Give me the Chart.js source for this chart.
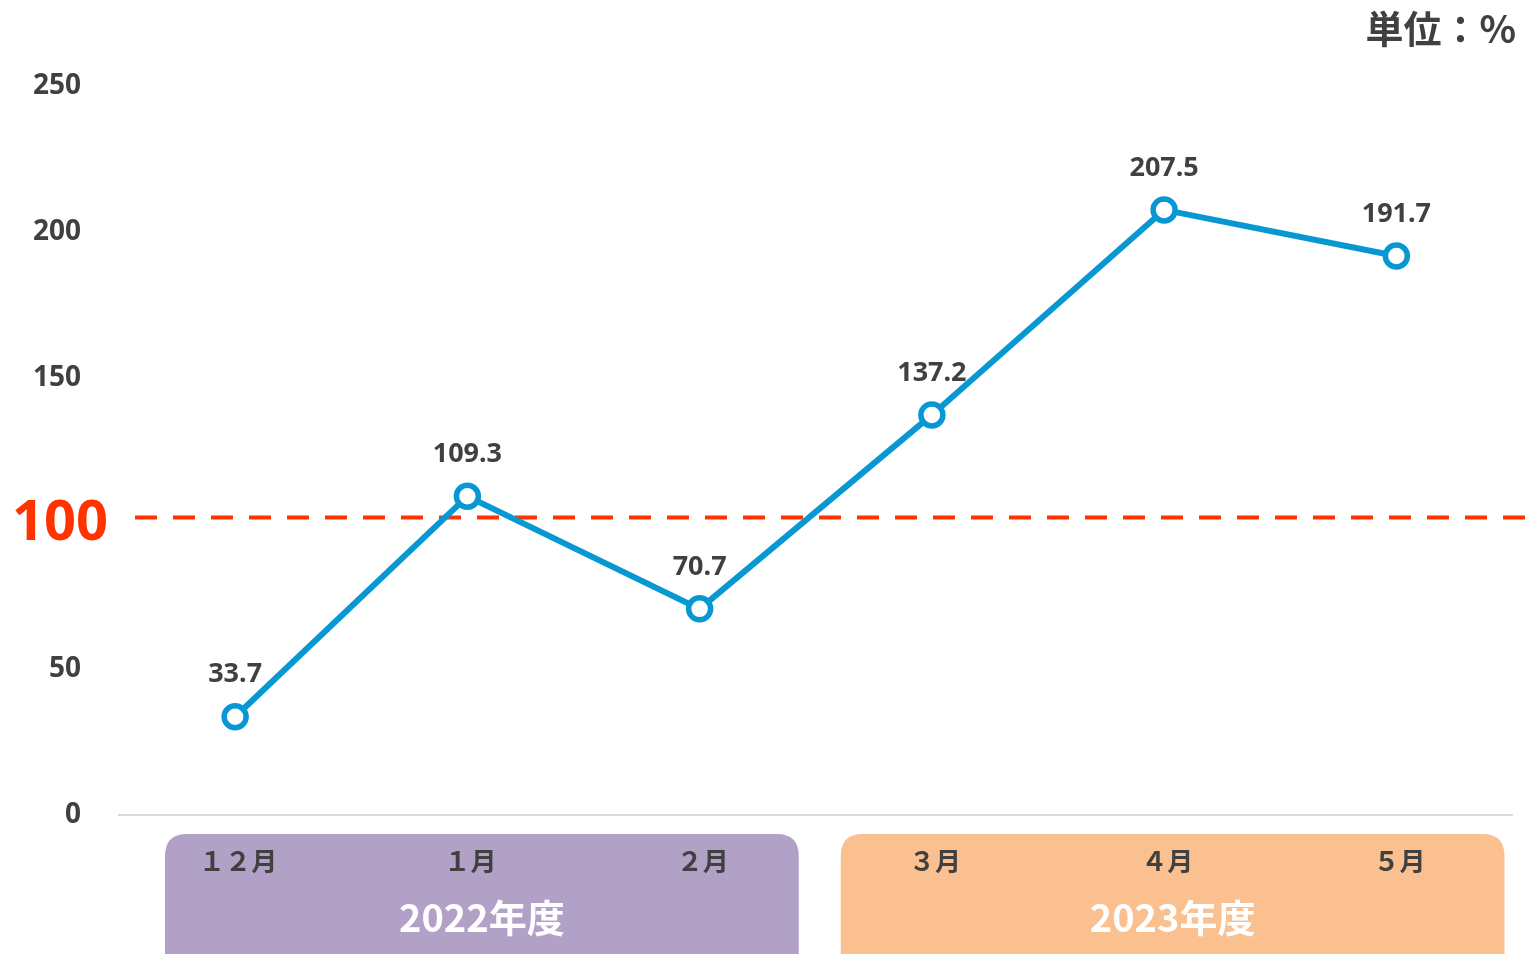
<!DOCTYPE html>
<html>
<head>
<meta charset="utf-8">
<script src="https://cdn.jsdelivr.net/npm/chart.js@4.4.0/dist/chart.umd.min.js"></script>
<style>
  html, body { margin: 0; padding: 0; background: #fff; }
  #wrap { width: 1529px; height: 954px; position: relative; }
</style>
</head>
<body>
<div id="wrap"><canvas id="chart"></canvas></div>
<script>
// 月別の値（単位：%）
const months = ["１２月", "１月", "２月", "３月", "４月", "５月"]
const values = [33.7, 109.3, 70.7, 137.2, 207.5, 191.7]
const yTicks = [0, 50, 100, 150, 200, 250]
const threshold = 100
// 年度グループ: [label, first index, last index]
const fiscalYears = ["2022年度", "2023年度"]
const fiscalRanges = [[0, 2], [3, 5]]
const fiscalColors = ["#b2a1c7", "#fac090"]
const unitLabel = "単位：%"

const textColor = "#404040"
const lineColor = "#0798d4"
const numFont = "'Noto Sans', 'Open Sans', sans-serif"
const jpFont = "'Noto Sans CJK JP', 'Noto Sans', sans-serif"

function roundRect(ctx, x, y, w, h, r) {
  ctx.beginPath()
  ctx.moveTo(x + r, y)
  ctx.lineTo(x + w - r, y)
  ctx.quadraticCurveTo(x + w, y, x + w, y + r)
  ctx.lineTo(x + w, y + h - r)
  ctx.quadraticCurveTo(x + w, y + h, x + w - r, y + h)
  ctx.lineTo(x + r, y + h)
  ctx.quadraticCurveTo(x, y + h, x, y + h - r)
  ctx.lineTo(x, y + r)
  ctx.quadraticCurveTo(x, y, x + r, y)
  ctx.closePath()
}

// dashed 100 line, red label, fiscal boxes, month labels, unit
const decorations = {
  id: "decorations",
  beforeDatasetsDraw(chart) {
    const { ctx, chartArea, scales } = chart
    const y = scales.y.getPixelForValue(threshold) - 6
    ctx.save()
    ctx.strokeStyle = "#ff3300"
    ctx.lineWidth = 4
    ctx.setLineDash([22, 16])
    ctx.beginPath()
    ctx.moveTo(chartArea.left + 16, y)
    ctx.lineTo(chart.width, y)
    ctx.stroke()
    ctx.restore()
  },
  afterDraw(chart) {
    const { ctx, chartArea, scales } = chart
    const x = scales.x
    ctx.save()

    // red 100 label
    ctx.fillStyle = "#ff3300"
    ctx.font = "bold 56px " + numFont
    ctx.textAlign = "right"
    ctx.textBaseline = "middle"
    ctx.fillText(String(threshold), chartArea.left - 11, scales.y.getPixelForValue(threshold) + 1)

    // fiscal year boxes
    const half = (x.getPixelForValue(1) - x.getPixelForValue(0)) / 2
    const boxTop = chartArea.bottom + 19
    fiscalRanges.forEach((r, i) => {
      const left = x.getPixelForValue(r[0]) - half + (i === 0 ? 46 : 25)
      const right = x.getPixelForValue(r[1]) + half - (i === 0 ? 17 : 8)
      ctx.fillStyle = fiscalColors[i]
      roundRect(ctx, left, boxTop, right - left, 140, 22)
      ctx.fill()
      ctx.fillStyle = "#ffffff"
      ctx.font = "bold 38px " + jpFont
      ctx.textAlign = "center"
      ctx.textBaseline = "middle"
      ctx.fillText(fiscalYears[i], (left + right) / 2, boxTop + 84)
    })

    // month labels
    ctx.fillStyle = textColor
    ctx.font = "bold 26px " + jpFont
    ctx.textAlign = "center"
    ctx.textBaseline = "middle"
    months.forEach((m, i) => {
      ctx.fillText(m, x.getPixelForValue(i) + 3, boxTop + 27)
    })

    // unit
    ctx.font = "bold 38px " + jpFont
    ctx.textAlign = "right"
    ctx.fillText(unitLabel, 1516, 29)

    // data labels
    ctx.font = "bold 27px " + numFont
    ctx.textAlign = "center"
    chart.getDatasetMeta(0).data.forEach((pt, i) => {
      ctx.fillText(values[i].toFixed(1), pt.x, pt.y - 42)
    })
    ctx.restore()
  }
}

new Chart(document.getElementById("chart").getContext("2d"), {
  type: "line",
  data: {
    labels: months,
    datasets: [{
      data: values,
      borderColor: lineColor,
      borderWidth: 6,
      tension: 0,
      pointRadius: 11,
      pointHoverRadius: 11,
      pointBackgroundColor: "#ffffff",
      pointBorderColor: lineColor,
      pointBorderWidth: 5.5
    }]
  },
  options: {
    responsive: true,
    maintainAspectRatio: false,
    animation: false,
    events: [],
    layout: { padding: { top: 86, right: 16, bottom: 139, left: 0 } },
    plugins: {
      legend: { display: false },
      tooltip: { enabled: false }
    },
    scales: {
      x: {
        offset: true,
        grid: { display: false },
        border: { display: true, color: "#d9d9d9", width: 2 },
        ticks: { display: false },
        afterFit: s => { s.height = 0 }
      },
      y: {
        min: 0,
        max: 250,
        afterFit: s => { s.width = 119 },
        afterBuildTicks: s => { s.ticks = yTicks.map(v => ({ value: v })) },
        grid: { display: false },
        border: { display: false },
        ticks: {
          color: textColor,
          padding: 30,
          font: { family: numFont, size: 28, weight: "bold" },
          callback: v => (v === threshold ? "" : v)
        }
      }
    }
  },
  plugins: [decorations]
})
</script>
</body>
</html>
